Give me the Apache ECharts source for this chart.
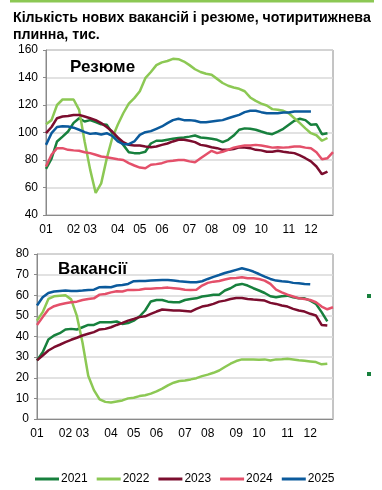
<!DOCTYPE html>
<html>
<head>
<meta charset="utf-8">
<script src="https://cdn.jsdelivr.net/npm/echarts@6/dist/echarts.min.js"></script>
<style>
html,body{margin:0;padding:0;background:#fff;}
#chart{width:382px;height:490px;}
</style>
</head>
<body>
<div id="chart"></div>
<script>
// Weeks of the year (x categories)
const weeks = [1,2,3,4,5,6,7,8,9,10,11,12,13,14,15,16,17,18,19,20,21,22,23,24,25,26,27,28,29,30,31,32,33,34,35,36,37,38,39,40,41,42,43,44,45,46,47,48,49,50,51,52,53];
// Month tick labels and the week index where they sit
const monthLabels = ['01','02','03','04','05','06','07','08','09','10','11','12'];
const monthWeekIdx = [0,5,8,13,17,21,26,30,35,39,44,48];
const years = ['2021','2022','2023','2024','2025'];

// Резюме (CVs), thousands
const cv2021 = [73.6,81,93.5,97,100.7,107,110.4,108,109,107.5,106,105.6,99.5,96,91,85.7,85,85,86,92,94,94,94.7,95.4,96,96.4,97,97.8,96.4,96,95.4,94.7,93,94.7,97.8,102,103,102.7,102,100.7,99.5,98.8,100.7,102.7,105.6,108.5,110,109,105.6,106,98.8,99.5,null];
const cv2022 = [106,109,120,124,124,124,116.5,93.5,73,56,63,81,96,105.6,114,121,125,130,139.5,144,149,151,152,153.6,153.3,151.6,149,146,144,142.7,142,139,136,134,132.7,131.8,130,125.5,123,121,119.6,117,116.5,115.8,114,110.4,106.8,103,99.5,98,94,96,null];
const cv2023 = [99.5,104,110.4,111.6,112,112.8,112.8,111.6,110.4,109,106.8,104,100.7,96.4,93,91,90.5,90.5,89.8,89.3,89.8,91,92,93.5,94.7,94.7,94,93,91,90.3,89.3,88.6,87.4,87.4,88,89.3,89,88.6,87.4,87,86,86,86.7,86,85.4,85,83.3,81.3,79,75.3,69.7,71.6,null];
const cv2024 = [75.3,83.8,88.6,88.6,87.4,87,86.7,85.7,85,83.8,82.5,82,81.3,80.6,80,77.7,76,74.5,74,76.5,77,77.7,79,79.4,80,80,79,78.4,81.3,84,86.7,85,86,87.4,89,89.8,90.5,90.5,91,90.5,89.8,89,89.3,89,89.3,89.8,89.8,89,88.6,85.7,80.6,81.3,85.7];
const cv2025 = [91,99.5,104,104.6,104.4,103.5,102,100.3,99,99.5,98.6,99.5,97.5,93.5,91.5,91.5,93.5,98.3,100.2,101,102.7,104.4,106.8,109,110,109,109,108.5,107.5,107.5,108,108.5,109,110.4,111.6,112.8,114.8,115.8,115.8,114.8,114,114,114,114.5,114.5,115.3,115.3,115.3,115.3,null,null,null,null];

// Вакансії (vacancies), thousands
const vac2021 = [28.4,32.4,38.5,40.5,41.6,43.4,43.7,43.4,44.5,45.6,45.6,46.9,46.9,46.9,47.3,46.1,46.5,47.7,49.7,52.6,57,57.7,57.7,56.9,56.6,56.6,57.7,58.2,58.5,59.4,59.8,60.2,60.2,62.3,63.4,65,65.5,64.7,63.4,62.3,61.1,59.5,59,59.5,59.8,59,58.5,58.5,57.4,55.8,51.8,47.3,null];
const vac2022 = [47.7,51.8,58.2,59.5,59.8,60,58,50,37,21,14,9.5,8.3,8,8.5,9,10,10.3,11.1,11.5,12.3,13.4,14.7,16.3,17.6,18.4,18.7,19.2,19.8,20.8,21.5,22.4,23.5,25.2,26.8,28.1,28.9,28.9,28.9,28.7,28.9,28.4,28.9,29,29.2,28.9,28.5,28.2,27.9,27.6,26.5,26.8,null];
const vac2023 = [28.4,30.8,33.2,34.8,36,37.3,38.4,39.4,40.5,41.3,42.1,43.4,43.7,44.5,45.6,46.6,47.7,48.5,49.4,49.8,51,52.1,53.1,52.9,52.6,52.6,52.4,52.1,53.4,54.5,55,55.8,56.9,57.4,58.2,58.7,58.7,58.2,57.9,57.7,57.4,56.3,55.8,55,54.5,53.4,52.6,52.1,51,50.2,45.6,45.3,null];
const vac2024 = [45.6,49.4,53.1,54.7,55.5,56.1,56.6,56.9,57.7,58.2,58.5,60.3,60.6,61.4,61.9,61.8,62.6,62.6,62.7,63.1,63.1,63.4,63.5,63.7,63.4,63.1,62.7,62.6,62.7,64.7,66,66.6,66.9,67.6,68.2,68.4,68.7,68.2,68.2,67.9,67.1,65.5,62.7,61.4,60.3,59.4,58.5,58.2,57.7,56.6,54.5,53.2,54.2];
const vac2025 = [55,59,61.1,61.8,62.1,62.3,62.1,62.1,62.3,62.6,62.7,63.9,64,63.9,64.7,65,65.5,66.8,66.9,66.9,67.1,67.3,67.4,67.4,67.1,66.8,66.6,66.3,66.3,66.8,67.9,68.9,69.8,70.8,71.5,72.3,73.1,72.4,71.5,70.3,69,67.9,67.1,66.8,66.6,66,65.8,65.5,65.3,null,null,null,null];

const colors = ['#17803d','#8cc854','#7b0d2e','#e4506a','#0b5a9c'];
const cvData = [cv2021, cv2022, cv2023, cv2024, cv2025];
const vacData = [vac2021, vac2022, vac2023, vac2024, vac2025];

const FONT = 'Liberation Sans, Arial, sans-serif';
const chart = echarts.init(document.getElementById('chart'), null, {renderer:'canvas'});

function xAxisFor(gridIndex){
  return {
    type:'category', gridIndex, data: weeks.map(String), boundaryGap:false,
    axisLine:{show:true, lineStyle:{color:'#8a8a8a', width:1}},
    axisTick:{show:false},
    splitLine:{show:false},
    axisLabel:{
      interval:(idx)=> monthWeekIdx.indexOf(idx) >= 0,
      formatter:(val, idx)=> { const k = monthWeekIdx.indexOf(idx); return k>=0 ? monthLabels[k] : ''; },
      color:'#000', fontSize:12, fontFamily:FONT, margin:9
    }
  };
}
function yAxisFor(gridIndex, min, max, interval){
  return {
    type:'value', gridIndex, min, max, interval,
    axisLine:{show:true, lineStyle:{color:'#8a8a8a', width:1}},
    axisTick:{show:true, length:3, lineStyle:{color:'#8a8a8a'}},
    splitLine:{show:true, lineStyle:{color:'#d9d9d9', width:1.5}},
    axisLabel:{color:'#000', fontSize:12, fontFamily:FONT, margin:8}
  };
}

const series = [];
years.forEach((y,k)=>{
  series.push({name:y, type:'line', xAxisIndex:0, yAxisIndex:0, data:cvData[k], symbol:'none',
    lineStyle:{color:colors[k], width:2.5}, itemStyle:{color:colors[k]}, z:2+k, animation:false});
});
years.forEach((y,k)=>{
  series.push({name:y, type:'line', xAxisIndex:1, yAxisIndex:1, data:vacData[k], symbol:'none',
    lineStyle:{color:colors[k], width:2.5}, itemStyle:{color:colors[k]}, z:2+k, animation:false});
});

chart.setOption({
  animation:false,
  backgroundColor:'#fff',
  title:{
    text:'Кількість нових вакансій і резюме, чотиритижнева\nплинна, тис.',
    left:8, top:5,
    textStyle:{fontSize:14.2, fontWeight:'bold', fontFamily:FONT, color:'#000', lineHeight:17}
  },
  grid:[
    {left:46, right:49, top:50, height:165, show:true, borderColor:'#8a8a8a', borderWidth:1},
    {left:37, right:49, top:254, height:165, show:true, borderColor:'#8a8a8a', borderWidth:1}
  ],
  xAxis:[xAxisFor(0), xAxisFor(1)],
  yAxis:[yAxisFor(0,40,160,20), yAxisFor(1,0,80,10)],
  legend:{
    data:years, left:30, top:468, icon:'rect', itemWidth:24, itemHeight:3, itemGap:9,
    textStyle:{fontSize:12, fontFamily:FONT, color:'#000', padding:[0,0,0,-3]}
  },
  graphic:[
    {type:'rect', shape:{x:10, y:0, width:364, height:2.5}, style:{fill:'#8cc854'}},
    {type:'text', left:70, top:59, style:{text:'Резюме', font:'bold 17px '+FONT, fill:'#000'}},
    {type:'text', left:58, top:261, style:{text:'Вакансії', font:'bold 17px '+FONT, fill:'#000'}},
    {type:'rect', shape:{x:367, y:294, width:4, height:4}, style:{fill:'#17803d'}},
    {type:'rect', shape:{x:367, y:372, width:4, height:4}, style:{fill:'#17803d'}}
  ],
  series
});
</script>
</body>
</html>
